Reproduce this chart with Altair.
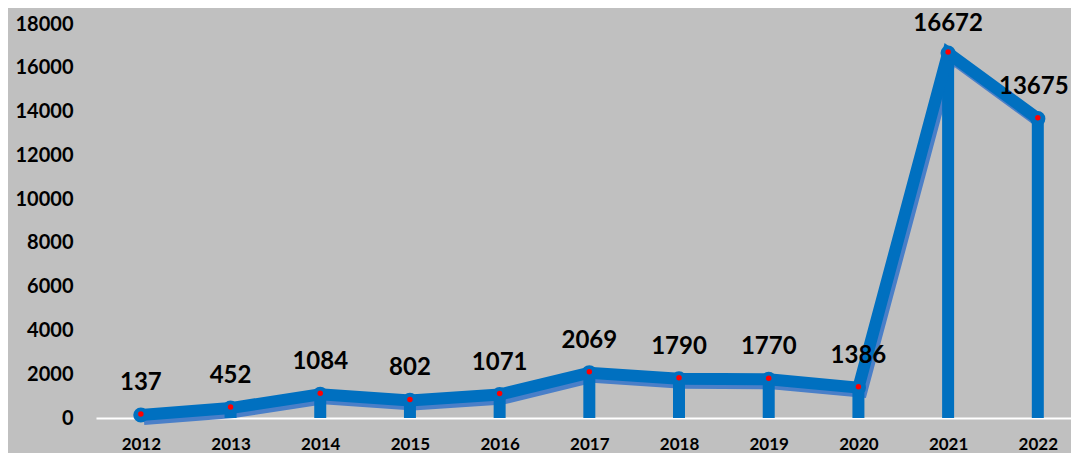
import altair as alt
import pandas as pd

years = [2012, 2013, 2014, 2015, 2016, 2017, 2018, 2019, 2020, 2021, 2022]
values = [137, 452, 1084, 802, 1071, 2069, 1790, 1770, 1386, 16672, 13675]

df = pd.DataFrame({"year": years, "value": values})

BLUE = "#0070C0"
SHADOW = "#4A7FC8"
FONT = "Lato"

x = alt.X("year:Q",
          scale=alt.Scale(domain=[2011.5, 2022.37], nice=False, zero=False),
          axis=alt.Axis(values=years, format="d", title=None, grid=False, ticks=False,
                        domainColor="white", domainWidth=2, labelFont=FONT,
                        labelFontSize=17, labelFontWeight="bold", labelColor="black",
                        labelPadding=18, labelFlush=False))
y = alt.Y("value:Q",
          scale=alt.Scale(domain=[0, 18000], nice=False),
          axis=alt.Axis(values=list(range(0, 18001, 2000)), format="d", title=None,
                        grid=False, ticks=False, domain=False, labelFont=FONT,
                        labelFontSize=20, labelFontWeight="bold", labelColor="black",
                        labelPadding=23))

base = alt.Chart(df)

shadow = base.mark_line(color=SHADOW, strokeWidth=12, xOffset=3, yOffset=4,
                        strokeJoin="miter").encode(x=x, y=y)
rules = base.mark_rule(color=BLUE, strokeWidth=12, strokeCap="butt").encode(
    x=x, y=y, y2=alt.datum(0))
line = base.mark_line(color=BLUE, strokeWidth=12, strokeJoin="miter").encode(x=x, y=y)
circles = base.mark_point(filled=True, color=BLUE, size=230, opacity=1).encode(x=x, y=y)
reddots = base.mark_point(filled=True, color="#FF0000", size=30, opacity=1,
                          yOffset=-1).encode(x=x, y=y)

text_enc = dict(x=x, y=y, text=alt.Text("value:Q", format="d"))
labels = base.mark_text(font=FONT, fontSize=24, fontWeight="bold", color="black",
                        dy=-32, baseline="middle").encode(**text_enc
).transform_filter(alt.datum.year < 2021)
peak_label = base.mark_text(font=FONT, fontSize=24, fontWeight="bold", color="black",
                            dy=-29, baseline="middle").encode(**text_enc
).transform_filter(alt.datum.year == 2021)
last_label = base.mark_text(font=FONT, fontSize=24, fontWeight="bold", color="black",
                            dy=-32, dx=-4, baseline="middle").encode(**text_enc
).transform_filter(alt.datum.year == 2022)

chart = alt.layer(shadow, rules, line, circles, reddots, labels, peak_label,
                  last_label).properties(
    width=975, height=394, background="#C0C0C0",
    autosize=alt.AutoSizeParams(type="none"),
    padding={"left": 88, "top": 16, "right": 0, "bottom": 35}
).configure_view(stroke=None)

chart.save("out.html", embed_options={"renderer": "svg", "actions": False})
